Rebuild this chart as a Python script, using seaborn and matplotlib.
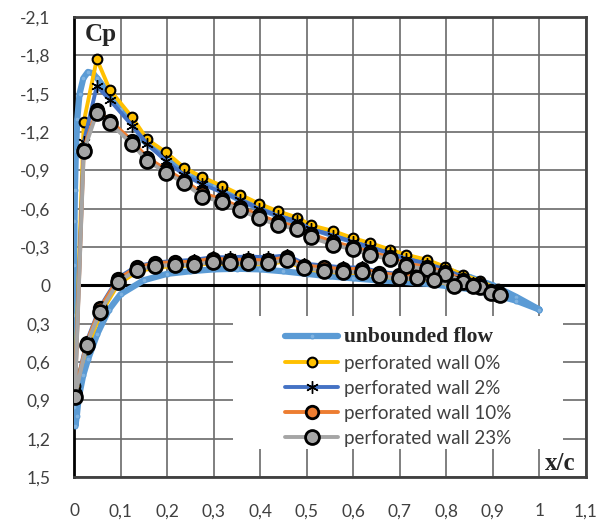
import matplotlib
matplotlib.use("Agg")
import matplotlib.pyplot as plt
import matplotlib.patches as mpatches
import numpy as np
import pandas as pd
import seaborn as sns

# pressure taps (upper surface from leading edge, lower surface from leading edge)
x_upper = [0.002, 0.021, 0.049, 0.077, 0.125, 0.157, 0.198, 0.237, 0.276, 0.317, 0.357, 0.397, 0.438,
           0.48, 0.509, 0.557, 0.599, 0.637, 0.679, 0.713, 0.758, 0.797, 0.836, 0.873, 0.91]
x_lower = [0.027, 0.056, 0.095, 0.135, 0.175, 0.217, 0.258, 0.298, 0.335, 0.374, 0.417, 0.457,
           0.495, 0.537, 0.579, 0.618, 0.656, 0.698, 0.736, 0.774, 0.816, 0.858, 0.896, 0.915]

cp0_upper = [0.79, -1.28, -1.77, -1.53, -1.315, -1.143, -1.04, -0.92, -0.845, -0.78, -0.71, -0.64, -0.58,
             -0.53, -0.47, -0.425, -0.37, -0.33, -0.28, -0.24, -0.2, -0.146, -0.08, -0.035, 0.03]
cp0_lower = [0.5, 0.23, -0.01, -0.105, -0.14, -0.15, -0.155, -0.175, -0.165, -0.165, -0.165, -0.19,
             -0.125, -0.11, -0.095, -0.1, -0.07, -0.055, -0.05, -0.04, 0.005, 0.01, 0.06, 0.078]

cp2_upper = [0.84, -1.12, -1.56, -1.45, -1.25, -1.11, -0.97, -0.865, -0.79, -0.73, -0.67, -0.6, -0.545,
             -0.5, -0.44, -0.39, -0.34, -0.3, -0.25, -0.21, -0.17, -0.125, -0.065, -0.02, 0.04]
cp2_lower = [0.44, 0.17, -0.06, -0.15, -0.18, -0.19, -0.2, -0.22, -0.22, -0.225, -0.22, -0.235,
             -0.17, -0.155, -0.14, -0.14, -0.105, -0.09, -0.085, -0.07, -0.025, -0.015, 0.04, 0.06]

cp10_upper = [0.85, -1.07, -1.37, -1.29, -1.13, -1.0, -0.905, -0.82, -0.72, -0.675, -0.61, -0.55, -0.495,
              -0.46, -0.4, -0.34, -0.3, -0.26, -0.22, -0.17, -0.145, -0.105, -0.045, 0.0, 0.055]
cp10_lower = [0.45, 0.18, -0.05, -0.14, -0.175, -0.18, -0.185, -0.21, -0.2, -0.2, -0.195, -0.22,
              -0.155, -0.14, -0.125, -0.13, -0.095, -0.08, -0.075, -0.06, -0.015, -0.005, 0.045, 0.065]

cp23_upper = [0.87, -1.05, -1.35, -1.27, -1.105, -0.976, -0.882, -0.8, -0.694, -0.655, -0.59, -0.525, -0.472,
              -0.44, -0.376, -0.316, -0.282, -0.238, -0.204, -0.152, -0.126, -0.089, -0.029, 0.015, 0.065]
cp23_lower = [0.466, 0.206, -0.029, -0.12, -0.152, -0.16, -0.16, -0.185, -0.173, -0.173, -0.173, -0.2,
              -0.134, -0.115, -0.102, -0.107, -0.075, -0.058, -0.055, -0.042, 0.003, 0.008, 0.057, 0.075]

# unbounded flow: trailing edge -> upper surface -> leading edge -> lower surface -> trailing edge
x_free = [1.0, 0.95, 0.9, 0.85, 0.8, 0.75, 0.7, 0.65, 0.6, 0.55, 0.5, 0.45, 0.4, 0.35, 0.3, 0.25, 0.2,
          0.15, 0.125, 0.1, 0.075, 0.05, 0.04, 0.03, 0.02, 0.012, 0.007, 0.004, 0.002, 0.001, 0.0005,
          0.0003, 0.0005, 0.001, 0.003, 0.006, 0.01, 0.02, 0.03, 0.05, 0.075, 0.1, 0.15, 0.2, 0.25, 0.3,
          0.35, 0.4, 0.45, 0.5, 0.55, 0.6, 0.65, 0.7, 0.75, 0.8, 0.85, 0.9, 0.95, 1.0]
cp_free = [0.19, 0.09, 0.0, -0.065, -0.12, -0.175, -0.23, -0.29, -0.345, -0.4, -0.46, -0.53, -0.6, -0.68,
           -0.78, -0.88, -0.99, -1.13, -1.28, -1.38, -1.5, -1.62, -1.66, -1.67, -1.62, -1.5, -1.3, -1.05,
           -0.75, -0.5, -0.16, 0.23, 0.6, 0.95, 1.1, 1.02, 0.88, 0.7, 0.58, 0.38, 0.19, 0.07, -0.04, -0.09,
           -0.11, -0.125, -0.13, -0.125, -0.11, -0.09, -0.07, -0.055, -0.04, -0.03, -0.015, 0.005, 0.03,
           0.07, 0.12, 0.19]

x_ticks = [0, 0.1, 0.2, 0.3, 0.4, 0.5, 0.6, 0.7, 0.8, 0.9, 1.0, 1.1]
y_ticks = [-2.1, -1.8, -1.5, -1.2, -0.9, -0.6, -0.3, 0, 0.3, 0.6, 0.9, 1.2, 1.5]


def loop(xu, cu, xl, cl):
    # upper surface from trailing edge to leading edge, then lower surface back
    x = list(reversed(xu)) + list(xl)
    c = list(reversed(cu)) + list(cl)
    return pd.DataFrame({"x": x, "cp": c})


def comma(v):
    if abs(v) < 1e-9:
        return "0"
    s = f"{v:.1f}".replace(".", ",")
    return s[:-2] if s.endswith(",0") else s


sns.set_style("white")
plt.rcParams["font.family"] = ["Lato", "DejaVu Sans"]

fig = plt.figure(figsize=(6.07, 5.22), dpi=100)
ax = fig.add_axes([74 / 607, 1 - 477 / 522, 512 / 607, 460 / 522])

free = pd.DataFrame({"x": x_free, "cp": cp_free})
sns.lineplot(data=free, x="x", y="cp", sort=False, estimator=None, color="#5B9BD5", lw=4.5,
             marker="o", ms=3.5, mec="#5B9BD5", mfc="#7FB2E0", label="unbounded flow", ax=ax, zorder=3)

series = [
    (cp0_upper, cp0_lower, "#FFC000", "o", 7, 1.5, "perforated wall 0%"),
    (cp2_upper, cp2_lower, "#4472C4", (6, 2, 0), 9, 1.0, "perforated wall 2%"),
    (cp10_upper, cp10_lower, "#ED7D31", "o", 9, 2.0, "perforated wall 10%"),
    (cp23_upper, cp23_lower, "#A5A5A5", "o", 10, 2.0, "perforated wall 23%"),
]
for i, (cu, cl, col, mk, ms, mew, lab) in enumerate(series):
    df = loop(x_upper, cu, x_lower, cl)
    sns.lineplot(data=df, x="x", y="cp", sort=False, estimator=None, color=col, lw=2.8,
                 marker=mk, ms=ms, mfc=col, mec="black", mew=mew, label=lab, ax=ax, zorder=4 + i)

ax.axhline(0, color="black", lw=2.2, zorder=2)

ax.set_xlim(0, 1.1)
ax.set_ylim(1.5, -2.1)
ax.set_xticks(x_ticks)
ax.set_yticks(y_ticks)
ax.set_xticklabels([comma(v) for v in x_ticks])
ax.set_yticklabels([comma(v) for v in y_ticks])
ax.tick_params(length=0, labelsize=12.5, colors="#404040", pad=17)
ax.tick_params(axis="x", pad=19)
ax.set_xlabel("")
ax.set_ylabel("")
ax.grid(True, color="#6a6a6a", lw=1.2)
ax.set_axisbelow(True)
for side in ["top", "right", "bottom"]:
    ax.spines[side].set_color("#404040")
    ax.spines[side].set_linewidth(2)
ax.spines["left"].set_color("black")
ax.spines["left"].set_linewidth(2)

# white area behind the legend, hiding the grid there
ax.add_patch(mpatches.Rectangle((0.31, 0.061), 0.645, 0.29, transform=ax.transAxes,
                                facecolor="white", edgecolor="none", zorder=1.5))

ax.text(0.021, 0.962, "Cp", transform=ax.transAxes, ha="left", va="center",
        family="Liberation Serif", weight="bold", fontsize=18, zorder=10)
ax.text(0.98, 0.03, "x/c", transform=ax.transAxes, ha="right", va="center",
        family="Liberation Serif", weight="bold", fontsize=18, zorder=10)

leg = ax.legend(loc="upper left", bbox_to_anchor=(0.402, 0.338), frameon=False, fontsize=13.5,
                handlelength=2.8, handletextpad=0.3, labelspacing=0.42, borderpad=0.3,
                borderaxespad=0)
leg.set_zorder(20)
for t in leg.get_texts():
    t.set_color("#404040")
first = leg.get_texts()[0]
first.set_family("Liberation Serif")
first.set_weight("bold")
first.set_fontsize(15.5)
first.set_color("#262626")

fig.savefig("out.png", dpi=100)
